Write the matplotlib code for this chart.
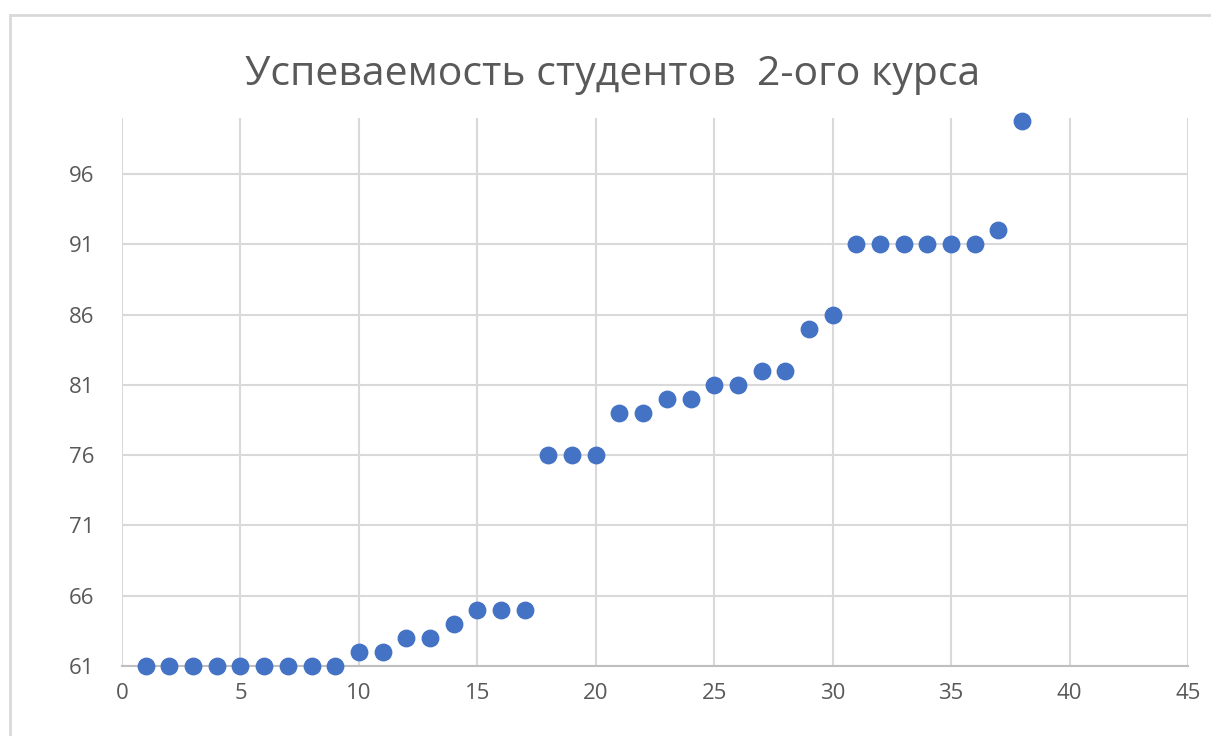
import matplotlib.pyplot as plt
from matplotlib.patches import Rectangle

# data
students = list(range(1, 39))
scores = [61, 61, 61, 61, 61, 61, 61, 61, 61,
          62, 62, 63, 63, 64, 65, 65, 65,
          76, 76, 76, 79, 79, 80, 80, 81, 81, 82, 82,
          85, 86, 91, 91, 91, 91, 91, 91, 92, 99.8]
x_ticks = [0, 5, 10, 15, 20, 25, 30, 35, 40, 45]
y_ticks = [61, 66, 71, 76, 81, 86, 91, 96]

plt.rcParams['font.family'] = ['Open Sans', 'DejaVu Sans']

fig = plt.figure(figsize=(12.11, 7.36), dpi=100)
W, H = 1211, 736

# outer chart frame (cropped on right/bottom)
fig.patches.append(Rectangle((10 / W, -0.1), 1.2, 1 - 15 / H + 0.1,
                             transform=fig.transFigure, fill=False,
                             edgecolor='#d9d9d9', linewidth=2))

ax = fig.add_axes([122 / W, 1 - 666 / H, (1188 - 122) / W, (666 - 118) / H])
ax.scatter(students, scores, s=140, color='#4472c4', zorder=3, clip_on=False)

ax.set_xlim(0, 45)
ax.set_ylim(61, 100)
ax.set_xticks(x_ticks)
ax.set_yticks(y_ticks)
ax.grid(True, color='#d9d9d9', linewidth=1.5)
ax.set_axisbelow(True)
for side in ['top', 'right', 'left']:
    ax.spines[side].set_visible(False)
ax.spines['bottom'].set_color('#bfbfbf')
ax.spines['bottom'].set_linewidth(1.5)
ax.tick_params(length=0, labelsize=16, labelcolor='#595959', pad=12)
ax.tick_params(axis='y', pad=20)

fig.text(613 / W, 1 - 75 / H, 'Успеваемость студентов  2-ого курса',
         ha='center', va='center', fontsize=29.5, color='#595959')

fig.savefig('out.png', dpi=100)
